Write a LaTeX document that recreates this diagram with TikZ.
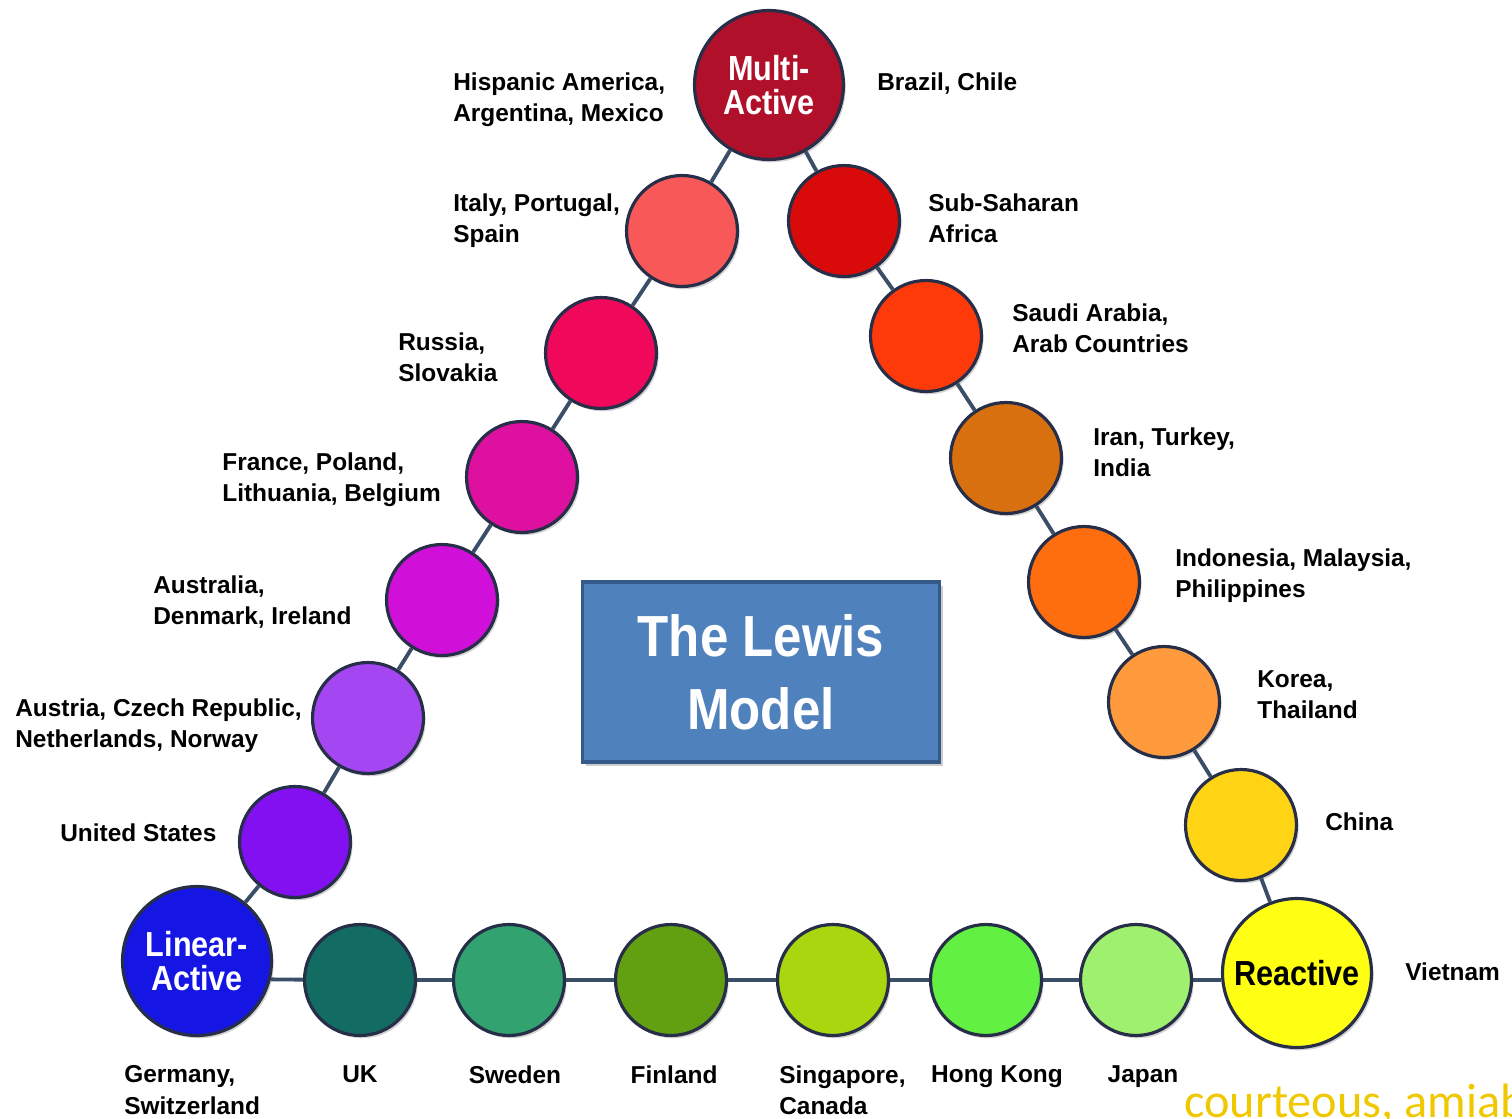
\documentclass[tikz,border=0pt]{standalone}
\usepackage{fontspec}
\setmainfont{Liberation Sans}
\newfontfamily\ballfont{Liberation Sans}[FakeStretch=0.88]
\newfontfamily\notefont{Carlito}
\usetikzlibrary{shadows}

\definecolor{linkcol}{RGB}{58,78,104}
\definecolor{rimcol}{RGB}{38,46,72}
\definecolor{multi}{RGB}{176,16,42}
\definecolor{linear}{RGB}{22,22,228}
\definecolor{react}{RGB}{255,255,20}
\definecolor{italy}{RGB}{248,88,88}
\definecolor{russia}{RGB}{240,8,90}
\definecolor{france}{RGB}{222,16,160}
\definecolor{austl}{RGB}{208,16,216}
\definecolor{austr}{RGB}{164,70,242}
\definecolor{usa}{RGB}{130,16,240}
\definecolor{subsah}{RGB}{216,10,10}
\definecolor{saudi}{RGB}{255,58,10}
\definecolor{iran}{RGB}{216,112,16}
\definecolor{indo}{RGB}{255,110,14}
\definecolor{korea}{RGB}{255,155,60}
\definecolor{china}{RGB}{255,212,20}
\definecolor{ukcol}{RGB}{18,108,98}
\definecolor{secol}{RGB}{50,162,112}
\definecolor{ficol}{RGB}{98,160,18}
\definecolor{sgcol}{RGB}{170,214,16}
\definecolor{hkcol}{RGB}{98,240,66}
\definecolor{jpcol}{RGB}{160,240,112}
\definecolor{boxfill}{RGB}{79,129,189}
\definecolor{boxedge}{RGB}{52,90,140}
\definecolor{notecol}{RGB}{240,200,0}

\tikzset{
  ball/.style={circle,draw=rimcol,line width=1.8pt,minimum size=2.22cm,inner sep=0pt,
    drop shadow={shadow xshift=1.2pt,shadow yshift=-1.6pt,opacity=.35}},
  bigball/.style={ball,minimum size=2.98cm,align=center,
    font=\ballfont\fontsize{19.8}{19.6}\selectfont\bfseries},
  country/.style={inner sep=0pt,align=left,font=\fontsize{13.9}{18.1}\selectfont\bfseries},
  link/.style={draw=linkcol,line width=2.2pt},
  titlebox/.style={draw=boxedge,line width=2pt,fill=boxfill,minimum width=7.14cm,
    minimum height=3.6cm,align=center,text=white,
    font=\ballfont\fontsize{33}{41.4}\selectfont\bfseries,
    drop shadow={shadow xshift=2pt,shadow yshift=-2pt,opacity=.4}}
}

\begin{document}
\begin{tikzpicture}[x=0.02cm,y=-0.02cm]
\useasboundingbox (0,0) rectangle (1512,1119);
\clip (0,0) rectangle (1512,1119);

% the three corners
\node[bigball,fill=multi,text=white] (MA) at (769,85) {Multi-\\Active};
\node[bigball,fill=linear,text=white] (LA) at (197,961) {Linear-\\Active};
\node[bigball,fill=react] (RE) at (1297,973) {Reactive};

% left side
\node[ball,fill=italy] (IT) at (682,231) {};
\node[ball,fill=russia] (RU) at (601,353) {};
\node[ball,fill=france] (FR) at (522,477) {};
\node[ball,fill=austl] (AU) at (442,600) {};
\node[ball,fill=austr] (AT) at (368,718) {};
\node[ball,fill=usa] (US) at (295,842) {};

% right side
\node[ball,fill=subsah] (SS) at (844,221) {};
\node[ball,fill=saudi] (SA) at (926,336) {};
\node[ball,fill=iran] (IR) at (1006,458) {};
\node[ball,fill=indo] (ID) at (1084,582) {};
\node[ball,fill=korea] (KR) at (1164,702) {};
\node[ball,fill=china] (CN) at (1241,825) {};

% bottom side
\node[ball,fill=ukcol] (UK) at (360,980) {};
\node[ball,fill=secol] (SE) at (509,980) {};
\node[ball,fill=ficol] (FI) at (671,980) {};
\node[ball,fill=sgcol] (SG) at (833,980) {};
\node[ball,fill=hkcol] (HK) at (986,980) {};
\node[ball,fill=jpcol] (JP) at (1136,980) {};

\draw[link] (MA) -- (IT) -- (RU) -- (FR) -- (AU) -- (AT) -- (US) -- (LA);
\draw[link] (MA) -- (SS) -- (SA) -- (IR) -- (ID) -- (KR) -- (CN) -- (RE);
\draw[link] (LA.-14) -- (UK) -- (SE) -- (FI) -- (SG) -- (HK) -- (JP) -- (JP -| RE.west);

\node[titlebox] (LM) at (761,672) {The Lewis\\Model};

% country names
\node[country,anchor=north west] (tMA1) at (453,72) {Hispanic America,\\Argentina, Mexico};
\node[country,anchor=north west] (tMA2) at (877,72) {Brazil, Chile};
\node[country,anchor=north west] (tIT) at (453,193) {Italy, Portugal,\\Spain};
\node[country,anchor=north west] (tRU) at (398,332) {Russia,\\Slovakia};
\node[country,anchor=north west] (tFR) at (222,452) {France, Poland,\\Lithuania, Belgium};
\node[country,anchor=north west] (tAU) at (153,575) {Australia,\\Denmark, Ireland};
\node[country,anchor=north west] (tAT) at (15,698) {Austria, Czech Republic,\\Netherlands, Norway};
\node[country,anchor=north west] (tUS) at (60,823) {United States};
\node[country,anchor=north west] (tSS) at (928,193) {Sub-Saharan\\Africa};
\node[country,anchor=north west] (tSA) at (1012,303) {Saudi Arabia,\\Arab Countries};
\node[country,anchor=north west] (tIR) at (1093,427) {Iran, Turkey,\\India};
\node[country,anchor=north west] (tID) at (1175,548) {Indonesia, Malaysia,\\Philippines};
\node[country,anchor=north west] (tKR) at (1257,670) {Korea,\\Thailand};
\node[country,anchor=north west] (tCN) at (1325,812) {China};
\node[country,anchor=north west] (tRE) at (1405,962) {Vietnam};
\node[country,anchor=north west] (tLA) at (124,1065) {Germany,\\Switzerland};
\node[country,anchor=north] (tUK) at (360,1065) {UK};
\node[country,anchor=north] (tSE) at (515,1065) {Sweden};
\node[country,anchor=north] (tFI) at (674,1065) {Finland};
\node[country,anchor=north west] (tSG) at (779,1065) {Singapore,\\Canada};
\node[country,anchor=north] (tHK) at (997,1065) {Hong Kong};
\node[country,anchor=north] (tJP) at (1143,1065) {Japan};

\node[anchor=base west,inner sep=0pt,text=notecol,font=\notefont\fontsize{27.5}{30}\selectfont]
  (note) at (1184,1117) {courteous, amiable};
\end{tikzpicture}
\end{document}
